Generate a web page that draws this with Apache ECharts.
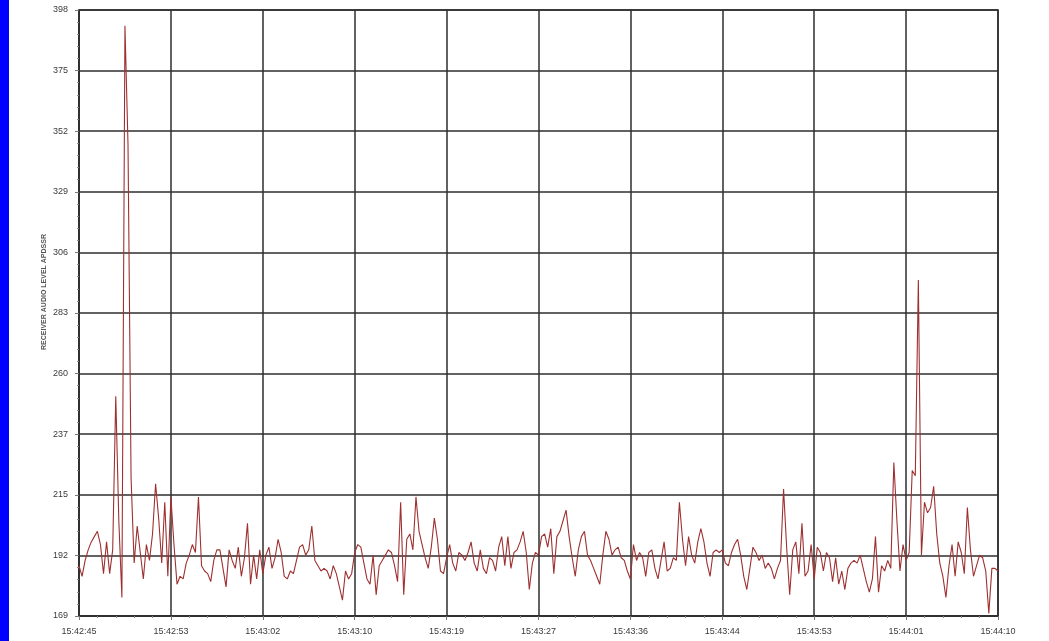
<!DOCTYPE html>
<html>
<head>
<meta charset="utf-8">
<script src="https://cdn.jsdelivr.net/npm/echarts@6/dist/echarts.min.js"></script>
<style>
html,body{margin:0;padding:0;background:#fff;}
#chart{width:1049px;height:641px;}
</style>
</head>
<body>
<div id="chart"></div>
<script>
// Tick labels
const timeLabels = ['15:42:45','15:42:53','15:43:02','15:43:10','15:43:19','15:43:27','15:43:36','15:43:44','15:43:53','15:44:01','15:44:10'];
const levelLabels = ['169','192','215','237','260','283','306','329','352','375','398'];
const yAxisTitle = 'RECEIVER AUDIO LEVEL APDSSR';

// Series values, 30 samples per time division (one array per division)
const div0 = [188,184,190,194,197,199,201,196,185,197,185,194,252,205,176,392,347,221,189,203,193,183,196,190,200,219,206,189,212,184];
const div1 = [214,196,181,184,183,189,192,196,193,214,188,186,185,182,190,194,194,187,180,194,190,187,195,184,191,204,181,192,183,194];
const div2 = [185,192,195,187,191,198,193,184,183,186,185,190,195,196,192,194,203,190,188,186,187,186,183,188,185,180,175,186,183,185];
const div3 = [193,196,195,189,183,181,192,177,188,190,192,194,193,188,182,212,177,198,200,194,214,201,196,191,187,195,206,198,186,185];
const div4 = [191,196,189,186,193,192,190,193,197,189,186,194,187,185,191,190,186,195,199,188,199,187,193,194,197,201,193,179,189,193];
const div5 = [192,199,200,195,202,185,199,201,205,209,199,191,184,194,199,201,192,190,187,184,181,192,201,198,192,194,195,191,190,186];
const div6 = [183,196,190,193,191,184,193,194,187,183,190,197,186,187,191,190,212,198,188,199,192,189,197,202,197,189,184,193,194,193];
const div7 = [194,189,188,193,196,198,192,184,179,187,195,193,190,192,187,189,187,183,187,190,217,195,177,194,197,185,204,184,186,196];
const div8 = [183,195,193,186,193,191,182,191,181,186,179,187,189,190,189,192,187,182,178,183,199,178,188,186,190,187,227,205,186,196];
const div9 = [190,193,224,222,296,192,212,208,210,218,200,189,184,176,188,196,184,197,193,185,210,194,184,188,192,191,186,170,187,187,186];

const samplesPerDivision = 30;
const levels = [].concat(div0,div1,div2,div3,div4,div5,div6,div7,div8,div9);
const seriesData = levels.map((v, i) => [i / samplesPerDivision, v]);

const chart = echarts.init(document.getElementById('chart'), null, {renderer: 'canvas'});
const gridColor = '#2e2e2e';
chart.setOption({
  animation: false,
  backgroundColor: '#ffffff',
  grid: {left: 79, right: 51, top: 10, bottom: 25, show: true, borderColor: gridColor, borderWidth: 1.5, backgroundColor: 'transparent'},
  graphic: [
    {type: 'rect', left: 0, top: 0, shape: {x: 0, y: 0, width: 9, height: 641}, style: {fill: '#0000ff'}, silent: true},
    {type: 'text', x: 44, y: 292, rotation: Math.PI / 2,
     style: {text: yAxisTitle, fill: '#555', font: 'bold 7px "Liberation Sans", Arial, sans-serif', align: 'center', verticalAlign: 'middle'}}
  ],
  xAxis: {
    type: 'value', min: 0, max: 10, interval: 1,
    axisLine: {show: true, onZero: false, lineStyle: {color: gridColor, width: 1.5}},
    axisTick: {show: true, length: 4, lineStyle: {color: '#777', width: 1}},
    minorTick: {show: true, splitNumber: 5, length: 2, lineStyle: {color: '#888'}},
    splitLine: {show: true, lineStyle: {color: gridColor, width: 1.5}},
    axisLabel: {
      margin: 11, fontSize: 9, color: '#3a3a3a', fontFamily: '"Liberation Sans", Arial, sans-serif',
      showMinLabel: true, showMaxLabel: true,
      formatter: v => timeLabels[Math.round(v)] || ''
    }
  },
  yAxis: {
    type: 'value', min: 169, max: 398, interval: 22.9,
    axisLine: {show: true, onZero: false, lineStyle: {color: gridColor, width: 1.5}},
    axisTick: {show: true, length: 4, lineStyle: {color: '#777', width: 1}},
    minorTick: {show: true, splitNumber: 5, length: 2, lineStyle: {color: '#888'}},
    splitLine: {show: true, lineStyle: {color: gridColor, width: 1.5}},
    axisLabel: {
      margin: 11, fontSize: 9, color: '#3a3a3a', fontFamily: '"Liberation Sans", Arial, sans-serif',
      showMinLabel: true, showMaxLabel: true,
      formatter: v => levelLabels[Math.round((v - 169) / 22.9)] || ''
    }
  },
  series: [{
    type: 'line', data: seriesData, showSymbol: false, smooth: false,
    lineStyle: {color: '#9e3030', width: 1.1},
    z: 3
  }]
});
</script>
</body>
</html>
